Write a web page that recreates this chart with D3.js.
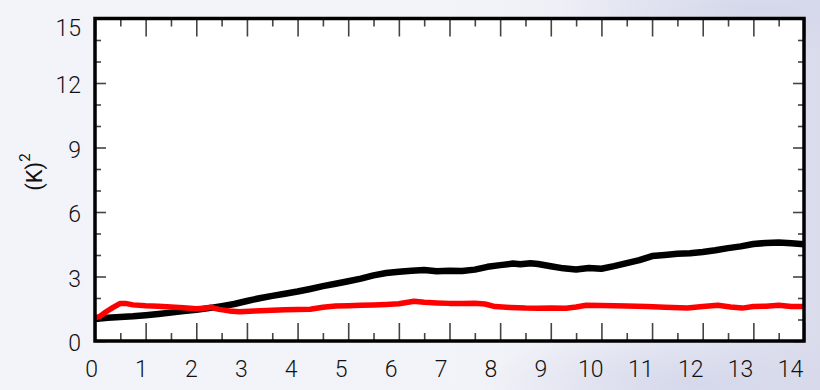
<!DOCTYPE html>
<html>
<head>
<meta charset="utf-8">
<script src="https://cdn.jsdelivr.net/npm/d3@7"></script>
<style>
  html, body { margin: 0; padding: 0; background: #f4f5f9; }
  svg { display: block; }
  text { font-family: Roboto, "Liberation Sans", Arial, sans-serif; }
</style>
</head>
<body>
<svg id="chart" width="820" height="390"></svg>
<script>
// Time axis values and the two traces (black and red)
const blackX = [0, 0.25, 0.5, 0.75, 1, 1.25, 1.5, 1.75, 2, 2.25, 2.5, 2.75, 3, 3.25, 3.5, 3.75, 4, 4.25, 4.5, 4.75, 5, 5.25, 5.5, 5.75, 6, 6.25, 6.5, 6.75, 7, 7.25, 7.5, 7.75, 8, 8.25, 8.4, 8.6, 8.75, 9, 9.25, 9.5, 9.75, 10, 10.25, 10.5, 10.75, 11, 11.25, 11.5, 11.75, 12, 12.25, 12.5, 12.75, 13, 13.25, 13.5, 13.75, 14, 14.32];
const blackY = [1.02, 1.08, 1.12, 1.15, 1.2, 1.26, 1.32, 1.39, 1.45, 1.53, 1.62, 1.72, 1.86, 1.99, 2.1, 2.2, 2.3, 2.42, 2.55, 2.66, 2.78, 2.9, 3.05, 3.16, 3.22, 3.27, 3.3, 3.24, 3.27, 3.26, 3.32, 3.45, 3.53, 3.6, 3.57, 3.62, 3.58, 3.48, 3.38, 3.33, 3.4, 3.36, 3.48, 3.62, 3.76, 3.95, 4.0, 4.06, 4.08, 4.14, 4.22, 4.32, 4.4, 4.51, 4.56, 4.58, 4.55, 4.5, 4.53];

const redX = [0, 0.1, 0.22, 0.35, 0.5, 0.6, 0.75, 1, 1.25, 1.5, 1.75, 2, 2.15, 2.28, 2.45, 2.65, 2.85, 3.15, 3.5, 3.75, 4, 4.25, 4.5, 4.75, 5, 5.25, 5.5, 5.75, 6, 6.3, 6.5, 6.75, 7, 7.25, 7.5, 7.7, 7.9, 8.2, 8.5, 8.75, 9, 9.3, 9.5, 9.7, 10, 10.25, 10.5, 10.9, 11.25, 11.7, 12, 12.3, 12.55, 12.78, 13, 13.25, 13.5, 13.75, 14, 14.32];
const redY = [1.08, 1.15, 1.36, 1.55, 1.75, 1.75, 1.68, 1.64, 1.62, 1.58, 1.55, 1.5, 1.52, 1.57, 1.47, 1.4, 1.36, 1.39, 1.43, 1.45, 1.46, 1.48, 1.57, 1.63, 1.64, 1.66, 1.68, 1.7, 1.73, 1.85, 1.8, 1.77, 1.75, 1.75, 1.76, 1.72, 1.6, 1.56, 1.53, 1.52, 1.54, 1.52, 1.58, 1.66, 1.65, 1.64, 1.63, 1.6, 1.57, 1.53, 1.6, 1.66, 1.58, 1.53, 1.6, 1.62, 1.66, 1.61, 1.6, 1.59];

const xTicks = [0, 1, 2, 3, 4, 5, 6, 7, 8, 9, 10, 11, 12, 13, 14];
const xMinorTicks = [0.5, 1.5, 2.5, 3.5, 4.5, 5.5, 6.5, 7.5, 8.5, 9.5, 10.5, 11.5, 12.5, 13.5];
const yTicks = [0, 3, 6, 9, 12, 15];
const yMinorTicks = [1, 2, 4, 5, 7, 8, 10, 11, 13, 14];
const yTitle = "(K)";
const yTitleSup = "2";

const W = 820, H = 390;
const plot = { left: 95, right: 804, top: 18.5, bottom: 341 };

const svg = d3.select("#chart");

// soft slide-style background
const defs = svg.append("defs");
const bg = defs.append("linearGradient").attr("id", "bg").attr("x1", "0").attr("x2", "1").attr("y1", "0").attr("y2", "0");
bg.append("stop").attr("offset", "0").attr("stop-color", "#f3f4f9");
bg.append("stop").attr("offset", "0.6").attr("stop-color", "#f2f3f8");
bg.append("stop").attr("offset", "0.85").attr("stop-color", "#e6e8f2");
bg.append("stop").attr("offset", "1").attr("stop-color", "#dadcec");
const blob = defs.append("radialGradient").attr("id", "blob").attr("cx", "0.5").attr("cy", "0.5").attr("r", "0.5");
blob.append("stop").attr("offset", "0").attr("stop-color", "#d3d6ea").attr("stop-opacity", 0.9);
blob.append("stop").attr("offset", "1").attr("stop-color", "#d3d6ea").attr("stop-opacity", 0);

svg.append("rect").attr("width", W).attr("height", H).attr("fill", "url(#bg)");
svg.append("ellipse").attr("cx", 700).attr("cy", 385).attr("rx", 220).attr("ry", 60).attr("fill", "url(#blob)");
svg.append("ellipse").attr("cx", 760).attr("cy", 10).attr("rx", 200).attr("ry", 45).attr("fill", "url(#blob)");

const x = d3.scaleLinear().domain([0, 14]).range([plot.left, plot.right]);
const y = d3.scaleLinear().domain([0, 15]).range([plot.bottom, plot.top]);
// tick labels along the bottom sit on a slightly narrower span than the tick marks
const xLabel = d3.scaleLinear().domain([0, 14]).range([plot.left - 4, plot.right - 14]);

// plotting area
svg.append("rect")
  .attr("x", plot.left).attr("y", plot.top)
  .attr("width", plot.right - plot.left).attr("height", plot.bottom - plot.top)
  .attr("fill", "#ffffff");

const tickColor = "#444";
const labelSize = 23;

function styleAxis(g) {
  g.select(".domain").remove();
  g.selectAll(".tick line").attr("stroke", tickColor).attr("stroke-width", 1.6);
  g.selectAll(".tick text").attr("fill", "#111").attr("font-size", labelSize).attr("font-weight", 300);
}

// bottom axis: inward tick marks, then labels
svg.append("g").attr("transform", `translate(0,${plot.bottom})`)
  .call(d3.axisBottom(x).tickValues(xTicks).tickFormat("").tickSize(-18))
  .call(styleAxis);
svg.append("g").attr("transform", `translate(0,${plot.bottom})`)
  .call(d3.axisBottom(x).tickValues(xMinorTicks).tickFormat("").tickSize(-8))
  .call(styleAxis);
svg.append("g").attr("transform", `translate(0,${plot.bottom})`)
  .call(d3.axisBottom(xLabel).tickValues(xTicks).tickFormat(d3.format("d")).tickSize(0).tickPadding(20))
  .call(styleAxis)
  .call(g => g.selectAll(".tick line").remove());

// top axis, ticks only
svg.append("g").attr("transform", `translate(0,${plot.top})`)
  .call(d3.axisTop(x).tickValues(xTicks).tickFormat("").tickSize(-18))
  .call(styleAxis);
svg.append("g").attr("transform", `translate(0,${plot.top})`)
  .call(d3.axisTop(x).tickValues(xMinorTicks).tickFormat("").tickSize(-8))
  .call(styleAxis);

// left axis with labels
svg.append("g").attr("transform", `translate(${plot.left},0)`)
  .call(d3.axisLeft(y).tickValues(yTicks).tickFormat(d3.format("d")).tickSize(-11).tickPadding(14))
  .call(styleAxis)
  .call(g => g.selectAll(".tick text").attr("dy", "0.42em"))
  .call(g => g.selectAll(".tick text").filter(d => d === 15).attr("dy", "0.72em"));
svg.append("g").attr("transform", `translate(${plot.left},0)`)
  .call(d3.axisLeft(y).tickValues(yMinorTicks).tickFormat("").tickSize(-6))
  .call(styleAxis);

// right axis, ticks only
svg.append("g").attr("transform", `translate(${plot.right},0)`)
  .call(d3.axisRight(y).tickValues(yTicks).tickFormat("").tickSize(-11))
  .call(styleAxis);
svg.append("g").attr("transform", `translate(${plot.right},0)`)
  .call(d3.axisRight(y).tickValues(yMinorTicks).tickFormat("").tickSize(-6))
  .call(styleAxis);

// traces
const line = d3.line().x(d => x(d[0])).y(d => y(d[1])).curve(d3.curveLinear);
const clip = defs.append("clipPath").attr("id", "plotclip");
clip.append("rect").attr("x", plot.left).attr("y", plot.top)
  .attr("width", plot.right - plot.left).attr("height", plot.bottom - plot.top);

const traces = svg.append("g").attr("clip-path", "url(#plotclip)");
traces.append("path")
  .datum(blackX.map((v, i) => [v, blackY[i]]))
  .attr("d", line).attr("fill", "none").attr("stroke", "#000")
  .attr("stroke-width", 6.5).attr("stroke-linejoin", "round").attr("stroke-linecap", "round");
traces.append("path")
  .datum(redX.map((v, i) => [v, redY[i]]))
  .attr("d", line).attr("fill", "none").attr("stroke", "#ff0000")
  .attr("stroke-width", 5.5).attr("stroke-linejoin", "round").attr("stroke-linecap", "round");

// frame
svg.append("rect")
  .attr("x", plot.left).attr("y", plot.top)
  .attr("width", plot.right - plot.left).attr("height", plot.bottom - plot.top)
  .attr("fill", "none").attr("stroke", "#000").attr("stroke-width", 3.5);

// y-axis title with superscript
const title = svg.append("text")
  .attr("transform", `translate(42,172) rotate(-90)`)
  .attr("text-anchor", "middle")
  .attr("font-size", 22)
  .attr("fill", "#111");
title.append("tspan").text(yTitle);
title.append("tspan").attr("font-size", 15).attr("dy", "-0.8em").text(yTitleSup);
</script>
</body>
</html>
